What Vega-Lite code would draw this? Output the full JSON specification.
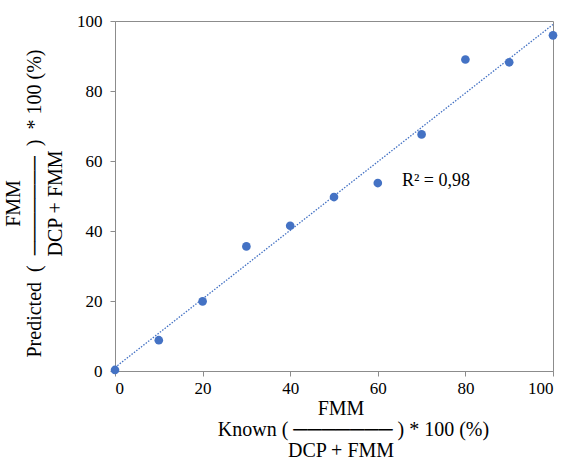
{
  "$schema": "https://vega.github.io/schema/vega-lite/v6.json",
  "width": 438,
  "height": 350,
  "autosize": {"type": "none"},
  "padding": {"left": 115, "top": 21, "right": 16, "bottom": 95},
  "config": {
    "font": "Liberation Serif",
    "view": {"stroke": "#8c8c8c", "strokeWidth": 1},
    "axis": {
      "grid": false,
      "domainColor": "#8c8c8c",
      "tickColor": "#8c8c8c",
      "tickSize": 5,
      "labelColor": "#000000",
      "labelFont": "Liberation Serif",
      "labelFontSize": 17,
      "titleFont": "Liberation Serif",
      "titleFontSize": 20,
      "titleFontWeight": "normal",
      "titleColor": "#000000",
      "titleLineHeight": 21
    }
  },
  "datasets": {
    "points": [
      {"known": 0, "predicted": 0.3},
      {"known": 10, "predicted": 8.8},
      {"known": 20, "predicted": 19.9},
      {"known": 30, "predicted": 35.6},
      {"known": 40, "predicted": 41.5},
      {"known": 50, "predicted": 49.7},
      {"known": 60, "predicted": 53.7},
      {"known": 70, "predicted": 67.6},
      {"known": 80, "predicted": 89.0},
      {"known": 90, "predicted": 88.2},
      {"known": 100, "predicted": 95.9}
    ],
    "trend": [
      {"known": 0, "predicted": 1.0},
      {"known": 100, "predicted": 99.0}
    ],
    "annot": [
      {"known": 65.5, "predicted": 54.4, "label": "R² = 0,98"}
    ]
  },
  "layer": [
    {
      "data": {"name": "trend"},
      "mark": {"type": "line", "color": "#4472C4", "strokeWidth": 1.3, "strokeDash": [1.5, 1.5]},
      "encoding": {
        "x": {"field": "known", "type": "quantitative"},
        "y": {"field": "predicted", "type": "quantitative"}
      }
    },
    {
      "data": {"name": "points"},
      "mark": {"type": "circle", "size": 75, "color": "#4472C4", "opacity": 1},
      "encoding": {
        "x": {
          "field": "known",
          "type": "quantitative",
          "scale": {"domain": [0, 100], "nice": false},
          "axis": {
            "values": [0, 20, 40, 60, 80, 100],
            "labelPadding": 4,
            "titlePadding": 2,
            "titleX": 238,
            "title": [
              "FMM\u00a0\u00a0\u2800",
              "Known (\u00a0───────\u00a0) * 100 (%)",
              "DCP + FMM\u00a0\u00a0\u2800"
            ]
          }
        },
        "y": {
          "field": "predicted",
          "type": "quantitative",
          "scale": {"domain": [0, 100], "nice": false},
          "axis": {
            "values": [0, 20, 40, 60, 80, 100],
            "labelPadding": 8,
            "titlePadding": 11,
            "titleY": 182,
            "title": [
              "FMM",
              "Predicted\u00a0\u00a0(\u00a0\u00a0───────\u00a0\u00a0)\u00a0\u00a0* 100 (%)",
              "DCP + FMM"
            ]
          }
        }
      }
    },
    {
      "data": {"name": "annot"},
      "mark": {"type": "text", "align": "left", "baseline": "middle", "fontSize": 18, "font": "Liberation Serif", "color": "#000000"},
      "encoding": {
        "x": {"field": "known", "type": "quantitative"},
        "y": {"field": "predicted", "type": "quantitative"},
        "text": {"field": "label"}
      }
    }
  ]
}
